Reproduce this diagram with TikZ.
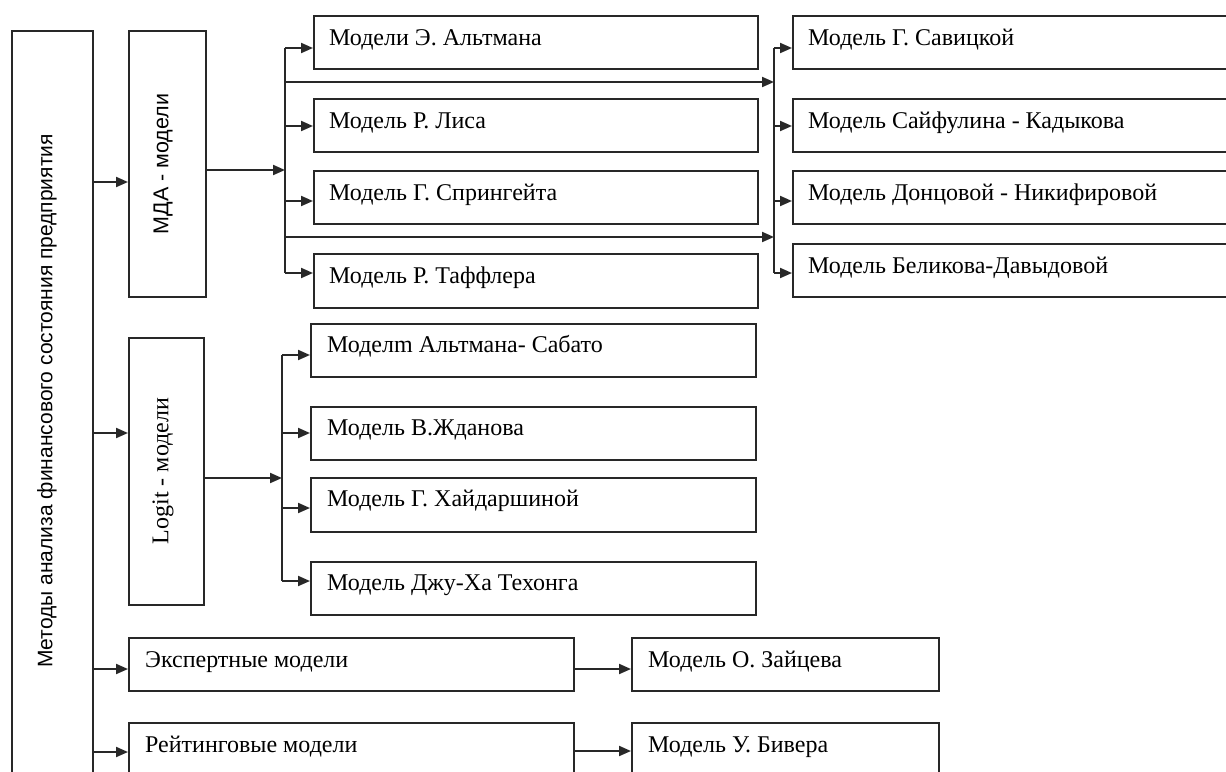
\documentclass[tikz,border=0pt]{standalone}
\usepackage{fontspec}
\setmainfont{Liberation Serif}
\newfontfamily\arialf{Liberation Sans}
\usetikzlibrary{arrows.meta}
\definecolor{linec}{RGB}{40,40,40}
\definecolor{txtc}{RGB}{0,0,0}
\begin{document}
\begin{tikzpicture}[x=1pt,y=-1pt,
  box/.style={draw=linec, line width=2pt, rectangle, inner sep=0pt, anchor=north west},
  lbl/.style={anchor=base west, inner sep=0pt, font=\fontsize{24}{28}\selectfont, text=txtc},
  vlbl/.style={rotate=90, inner sep=0pt, text=txtc},
  conn/.style={draw=linec, line width=2pt},
  arr/.style={conn, -{Triangle[length=12pt,width=10pt]}},
]
\clip (0,0) rectangle (1226,771);
\fill[white] (0,0) rectangle (1226,771);

% left main box
\node[box, minimum width=81pt, minimum height=770pt] (L) at (11,30) {};
\node[vlbl, font=\arialf\fontsize{21}{24}\selectfont] (Lt) at (47,401) {Методы анализа финансового состояния предприятия};

% MDA
\node[box, minimum width=77pt, minimum height=266pt] (M) at (128,30) {};
\node[vlbl, font=\arialf\fontsize{21.5}{24}\selectfont] (Mt) at (163,164) {МДА - модели};

% Logit
\node[box, minimum width=75pt, minimum height=267pt] (G) at (128,337) {};
\node[vlbl, font=\fontsize{24}{28}\selectfont] (Gt) at (163,471) {Logit - модели};

% MDA children
\node[box, minimum width=444pt, minimum height=53pt] (m1) at (313,15) {};
\node[box, minimum width=444pt, minimum height=53pt] (m2) at (313,98) {};
\node[box, minimum width=444pt, minimum height=53pt] (m3) at (313,170) {};
\node[box, minimum width=444pt, minimum height=54pt] (m4) at (313,253) {};
\node[lbl] (m1t) at ([shift={(16,30)}]m1.north west) {Модели Э. Альтмана};
\node[lbl] (m2t) at ([shift={(16,30)}]m2.north west) {Модель Р. Лиса};
\node[lbl] (m3t) at ([shift={(16,30)}]m3.north west) {Модель Г. Спрингейта};
\node[lbl] (m4t) at ([shift={(16,30)}]m4.north west) {Модель Р. Таффлера};

% right column
\node[box, minimum width=460pt, minimum height=53pt] (r1) at (792,15) {};
\node[box, minimum width=460pt, minimum height=53pt] (r2) at (792,98) {};
\node[box, minimum width=460pt, minimum height=53pt] (r3) at (792,170) {};
\node[box, minimum width=460pt, minimum height=53pt] (r4) at (792,243) {};
\node[lbl] (r1t) at ([shift={(16,30)}]r1.north west) {Модель Г. Савицкой};
\node[lbl] (r2t) at ([shift={(16,30)}]r2.north west) {Модель Сайфулина - Кадыкова};
\node[lbl] (r3t) at ([shift={(16,30)}]r3.north west) {Модель Донцовой - Никифировой};
\node[lbl] (r4t) at ([shift={(16,30)}]r4.north west) {Модель Беликова-Давыдовой};

% Logit children
\node[box, minimum width=445pt, minimum height=53pt] (g1) at (310,323) {};
\node[box, minimum width=445pt, minimum height=53pt] (g2) at (310,406) {};
\node[box, minimum width=445pt, minimum height=54pt] (g3) at (310,477) {};
\node[box, minimum width=445pt, minimum height=53pt] (g4) at (310,561) {};
\node[lbl] (g1t) at ([shift={(17,29)}]g1.north west) {Моделm Альтмана- Сабато};
\node[lbl] (g2t) at ([shift={(17,29)}]g2.north west) {Модель В.Жданова};
\node[lbl] (g3t) at ([shift={(17,29)}]g3.north west) {Модель Г. Хайдаршиной};
\node[lbl] (g4t) at ([shift={(17,29)}]g4.north west) {Модель Джу-Ха Техонга};

% expert / rating
\node[box, minimum width=445pt, minimum height=53pt] (E) at (128,637) {};
\node[box, minimum width=445pt, minimum height=90pt] (R) at (128,722) {};
\node[lbl] (Et) at ([shift={(17,30)}]E.north west) {Экспертные модели};
\node[lbl] (Rt) at ([shift={(17,30)}]R.north west) {Рейтинговые модели};
\node[box, minimum width=307pt, minimum height=53pt] (Z) at (631,637) {};
\node[box, minimum width=307pt, minimum height=90pt] (B) at (631,722) {};
\node[lbl] (Zt) at ([shift={(17,30)}]Z.north west) {Модель О. Зайцева};
\node[lbl] (Bt) at ([shift={(17,30)}]B.north west) {Модель У. Бивера};

% arrows from left box
\coordinate (a1) at (92,182);
\coordinate (a2) at (92,433);
\coordinate (a3) at (92,669);
\coordinate (a4) at (92,752);
\draw[arr] (a1) -- (a1 -| M.west);
\draw[arr] (a2) -- (a2 -| G.west);
\draw[arr] (a3) -- (a3 -| E.west);
\draw[arr] (a4) -- (a4 -| R.west);

% MDA bus
\coordinate (mb) at (285,170);
\coordinate (mt1) at (285,48);
\coordinate (mt2) at (285,126);
\coordinate (mt3) at (285,201);
\coordinate (mt4) at (285,273);
\coordinate (mx1) at (285,82);
\coordinate (mx2) at (285,237);
\draw[arr] (M.east |- mb) -- (mb);
\draw[conn] (mt1) -- (mt4);
\draw[arr] (mt1) -- (mt1 -| m1.west);
\draw[arr] (mt2) -- (mt2 -| m2.west);
\draw[arr] (mt3) -- (mt3 -| m3.west);
\draw[arr] (mt4) -- (mt4 -| m4.west);

% right bus
\coordinate (rt1) at (774,48);
\coordinate (rt2) at (774,126);
\coordinate (rt3) at (774,201);
\coordinate (rt4) at (774,273);
\draw[arr] (mx1) -- (mx1 -| rt1);
\draw[arr] (mx2) -- (mx2 -| rt1);
\draw[conn] (rt1) -- (rt4);
\draw[arr] (rt1) -- (rt1 -| r1.west);
\draw[arr] (rt2) -- (rt2 -| r2.west);
\draw[arr] (rt3) -- (rt3 -| r3.west);
\draw[arr] (rt4) -- (rt4 -| r4.west);

% Logit bus
\coordinate (gb) at (282,478);
\coordinate (gt1) at (282,355);
\coordinate (gt2) at (282,433);
\coordinate (gt3) at (282,508);
\coordinate (gt4) at (282,581);
\draw[arr] (G.east |- gb) -- (gb);
\draw[conn] (gt1) -- (gt4);
\draw[arr] (gt1) -- (gt1 -| g1.west);
\draw[arr] (gt2) -- (gt2 -| g2.west);
\draw[arr] (gt3) -- (gt3 -| g3.west);
\draw[arr] (gt4) -- (gt4 -| g4.west);

% expert/rating to models
\coordinate (e1) at (573,669);
\coordinate (e2) at (573,751);
\draw[arr] (e1) -- (e1 -| Z.west);
\draw[arr] (e2) -- (e2 -| B.west);
\end{tikzpicture}
\end{document}
